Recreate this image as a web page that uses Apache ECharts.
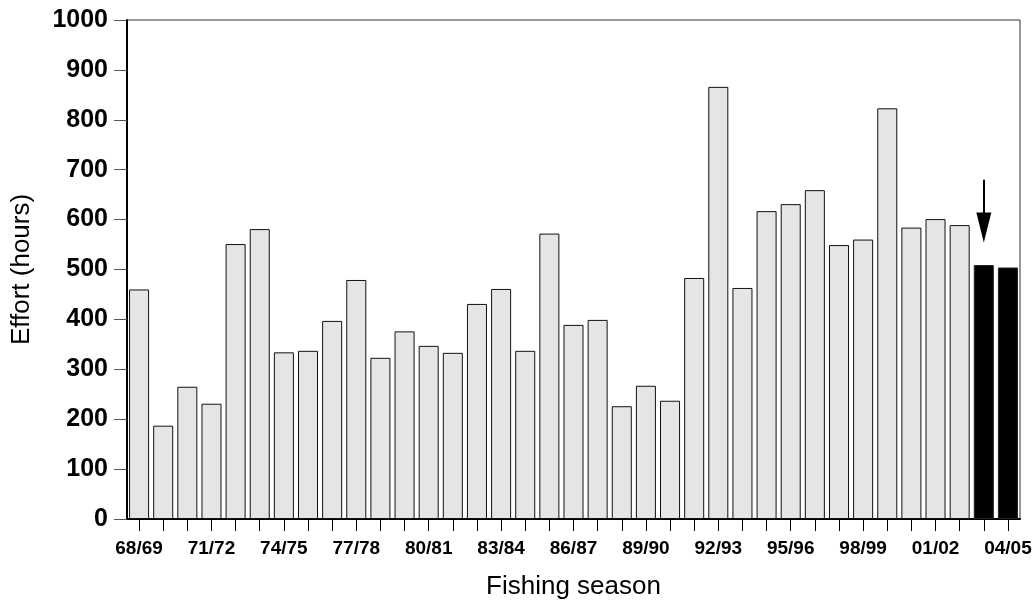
<!DOCTYPE html>
<html>
<head>
<meta charset="utf-8">
<script src="https://cdn.jsdelivr.net/npm/echarts@6/dist/echarts.min.js"></script>
<style>
html,body{margin:0;padding:0;background:#fff;}
#chart{width:1036px;height:605px;}
</style>
</head>
<body>
<div id="chart"></div>
<script>
const seasons = ['68/69','69/70','70/71','71/72','72/73','73/74','74/75','75/76','76/77','77/78',
  '78/79','79/80','80/81','81/82','82/83','83/84','84/85','85/86','86/87','87/88',
  '88/89','89/90','90/91','91/92','92/93','93/94','94/95','95/96','96/97','97/98',
  '98/99','99/00','00/01','01/02','02/03','03/04','04/05'];
const effort = [460,187,265,231,551,581,334,337,397,479,
  323,376,347,333,431,461,337,572,389,399,
  226,267,237,483,866,463,617,631,659,549,
  560,823,584,601,589,509,504];
const highlighted = ['03/04','04/05'];
const arrowSeason = '03/04';
const arrowFrom = 680;
const arrowTo = 584;
const yTicks = [0,100,200,300,400,500,600,700,800,900,1000];

const font = 'Liberation Sans, Arial, sans-serif';
const chart = echarts.init(document.getElementById('chart'), null, {renderer:'canvas'});

const data = effort.map((v,i) => ({
  value: v,
  itemStyle: highlighted.includes(seasons[i]) ? {color:'#000', borderColor:'#222'} : undefined
}));

chart.setOption({
  animation: false,
  grid: {left:127, right:16, top:20, bottom:84, show:true, borderColor:'#333', borderWidth:1, backgroundColor:'transparent'},
  xAxis: {
    type:'category', data: seasons, boundaryGap:true,
    name:'Fishing season', nameLocation:'middle', nameGap:55,
    nameTextStyle:{fontFamily:font, fontSize:26, color:'#000'},
    axisLine:{lineStyle:{color:'#000', width:2}},
    axisTick:{show:true, alignWithLabel:true, interval:0, length:12, lineStyle:{color:'#000', width:1}},
    axisLabel:{interval:2, fontFamily:font, fontSize:19, fontWeight:'bold', color:'#000', margin:20}
  },
  yAxis: {
    type:'value', min:yTicks[0], max:yTicks[yTicks.length-1], interval:yTicks[1]-yTicks[0],
    name:'Effort (hours)', nameLocation:'middle', nameGap:92,
    nameTextStyle:{fontFamily:font, fontSize:26, color:'#000'},
    axisLine:{show:true, lineStyle:{color:'#000', width:2}},
    axisTick:{show:true, length:13, lineStyle:{color:'#555', width:1}},
    axisLabel:{fontFamily:font, fontSize:25, fontWeight:'bold', color:'#000', margin:19,
      formatter: v => String(v)},
    splitLine:{show:false}
  },
  series: [{
    type:'bar', data: data, barCategoryGap:'17%',
    itemStyle:{color:'#e5e5e5', borderColor:'#111', borderWidth:1},
    markLine: {
      silent:true, animation:false,
      symbol:['none','triangle'], symbolSize:[15,30],
      label:{show:false},
      lineStyle:{color:'#000', width:2, type:'solid'},
      data:[[{coord:[arrowSeason, arrowFrom]},{coord:[arrowSeason, arrowTo]}]]
    }
  }]
});
</script>
</body>
</html>
